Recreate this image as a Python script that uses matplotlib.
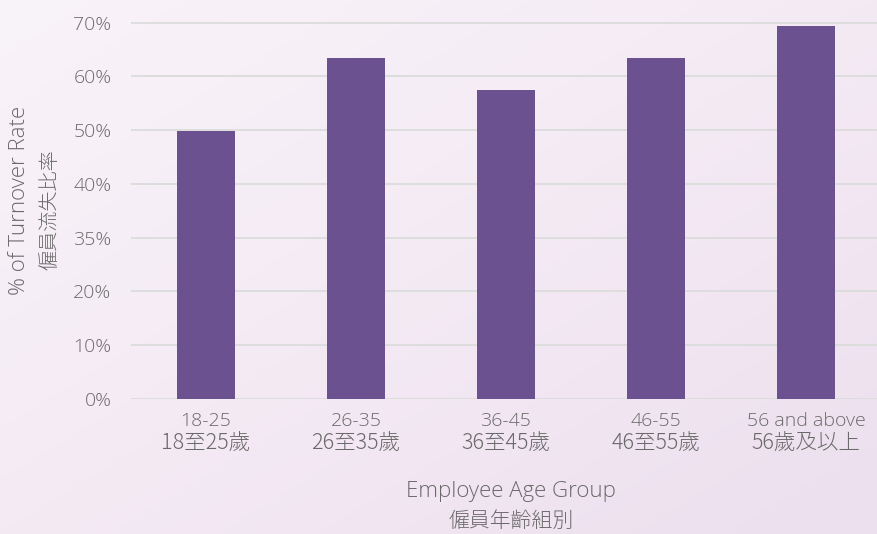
import numpy as np
import matplotlib.pyplot as plt
from matplotlib.colors import LinearSegmentedColormap

groups_en = ["18-25", "26-35", "36-45", "46-55", "56 and above"]
groups_zh = ["18至25歲", "26至35歲", "36至45歲", "46至55歲", "56歲及以上"]
turnover = [49.8, 63.4, 57.4, 63.4, 69.3]
tick_pos = [0, 10, 20, 30, 40, 50, 60, 70]
tick_txt = ["0%", "10%", "20%", "35%", "40%", "50%", "60%", "70%"]

plt.rcParams['font.family'] = ['Open Sans', 'DejaVu Sans']
CJK = ['Noto Sans CJK JP', 'DejaVu Sans']
GREY = '#6a6a6a'
BAR = '#6b5190'

fig = plt.figure(figsize=(8.78, 5.34), dpi=100)

# soft lavender background
bg = fig.add_axes([0, 0, 1, 1], zorder=-10)
yy, xx = np.mgrid[0:1:200j, 0:1:200j]
grad = 0.5 * xx + 0.5 * yy
cmap = LinearSegmentedColormap.from_list('bg', ['#f9f4f9', '#f4eaf4', '#ecdfee'])
bg.imshow(grad, cmap=cmap, aspect='auto', extent=[0, 1, 0, 1], origin='upper')
bg.axis('off')

ax = fig.add_axes([131 / 878, 135 / 534, 750 / 878, 377.5 / 534])
ax.patch.set_alpha(0)
x = np.arange(len(groups_en))
ax.bar(x, turnover, width=0.39, color=BAR, zorder=3)
ax.set_xlim(-0.5, 4.5)
ax.set_ylim(0, 70.2)
ax.set_yticks(tick_pos)
ax.set_yticklabels(tick_txt, fontweight='light')
ax.set_xticks(x)
ax.set_xticklabels(groups_en, fontweight='light')
ax.tick_params(axis='both', length=0, labelsize=14, labelcolor=GREY)
ax.tick_params(axis='y', pad=14)
ax.tick_params(axis='x', pad=9)
ax.grid(axis='y', color='#dcdcdc', linewidth=1.3, zorder=0)
for s in ax.spines.values():
    s.set_visible(False)

# chinese second line under each category
for xi, lab in zip(x, groups_zh):
    ax.text(xi, -45 / 377.5, lab, transform=ax.get_xaxis_transform(),
            ha='center', va='center', fontsize=15.5, color=GREY,
            family=CJK, fontweight=300)

fig.text(20 / 878, 1 - 200 / 534, "% of Turnover Rate", rotation=90,
         ha='center', va='center', fontsize=16, color=GREY, fontweight='light')
fig.text(50 / 878, 1 - 210 / 534, "僱員流失比率", rotation=90,
         ha='center', va='center', fontsize=14.5, color=GREY,
         family=CJK, fontweight=300)
fig.text(511 / 878, 1 - 492 / 534, "Employee Age Group",
         ha='center', va='center', fontsize=16, color=GREY, fontweight='light')
fig.text(511 / 878, 1 - 521 / 534, "僱員年齡組別",
         ha='center', va='center', fontsize=15, color=GREY,
         family=CJK, fontweight=300)

fig.savefig('out.png', dpi=100)
